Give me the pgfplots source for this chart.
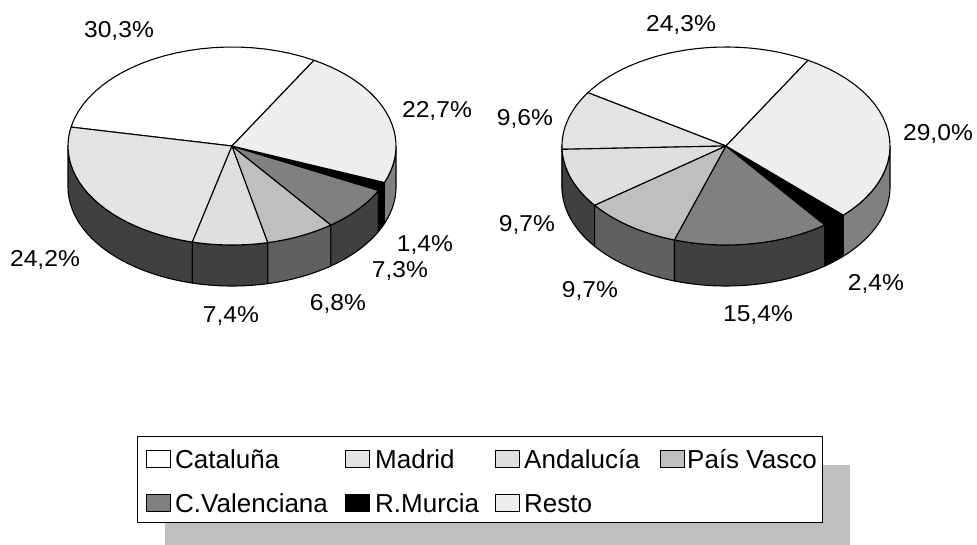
\documentclass[border=0pt]{standalone}
\usepackage{fontspec}
\setmainfont{Liberation Sans}
\usepackage{pgfplots}
\pgfplotsset{compat=1.18}
\usepackage{tikz}
\usepackage{xcolor}

\definecolor{top1}{HTML}{FFFFFF}
\definecolor{top2}{HTML}{E3E3E3}
\definecolor{top3}{HTML}{DFDFDF}
\definecolor{top4}{HTML}{BFBFBF}
\definecolor{top5}{HTML}{808080}
\definecolor{top6}{HTML}{000000}
\definecolor{top7}{HTML}{EEEEEE}
\definecolor{wall2}{HTML}{404040}
\definecolor{wall4}{HTML}{606060}
\definecolor{wall7}{HTML}{808080}
\definecolor{shadow}{HTML}{BFBFBF}

\def\rx{164}
\def\ry{99}
\def\dep{41}

% appends an elliptical arc (angles in degrees) to \pts
\newcommand{\addarc}[4]{%
  \pgfmathsetmacro\stp{(#4-#3)/24}%
  \foreach \k in {0,...,24}{%
    \pgfmathsetmacro\ang{#3+\k*\stp}%
    \pgfmathsetmacro\px{#1+\rx*cos(\ang)}%
    \pgfmathsetmacro\py{#2-\ry*sin(\ang)}%
    \xdef\pts{\pts (\px,\py)}%
  }%
}
\newcommand{\polyplot}[1]{%
  \edef\tmp{\noexpand\addplot[draw=black,line width=1.1pt,line join=round,fill=#1] coordinates {\pts} -- cycle;}%
  \tmp
}
% #3: percent/top colour/side colour, in drawing order
\newcommand{\drawpie}[3]{%
  \foreach \v/\tc/\sc [remember=\e as \s (initially 60)] in {#3}{%
    \pgfmathsetmacro\e{\s+\v*360/100.1}%
    \pgfmathsetmacro\wa{max(\s,180)}%
    \pgfmathsetmacro\wb{min(\e,360)}%
    \ifdim\wb pt>\wa pt
      \gdef\pts{}%
      \addarc{#1}{#2}{\wa}{\wb}%
      \pgfmathsetmacro\low{#2+\dep}%
      \addarc{#1}{\low}{\wb}{\wa}%
      \polyplot{\sc}%
    \fi
  }%
  \foreach \v/\tc/\sc [remember=\e as \s (initially 60)] in {#3}{%
    \pgfmathsetmacro\e{\s+\v*360/100.1}%
    \gdef\pts{(#1,#2) }%
    \addarc{#1}{#2}{\s}{\e}%
    \polyplot{\tc}%
  }%
}

\tikzset{
  val/.style={font=\fontsize{23}{23}\selectfont,inner sep=0pt,anchor=center,xscale=1.07},
  leg/.style={font=\fontsize{26}{26}\selectfont,inner sep=0pt,anchor=base west},
}

\begin{document}
\begin{tikzpicture}
\begin{axis}[
  x=1pt, y=1pt,
  y dir=reverse,
  xmin=0, xmax=977, ymin=0, ymax=545,
  hide axis,
  clip=false,
]
% white page, keeps the picture's extent
\addplot[draw=none,fill=white] coordinates {(0,0) (977,0) (977,545) (0,545)} -- cycle;

\drawpie{232}{146}{30.3/top1/top1, 24.2/top2/wall2, 7.4/top3/wall2, 6.8/top4/wall4, 7.3/top5/wall2, 1.4/top6/top6, 22.7/top7/wall7}
\drawpie{726}{146}{24.3/top1/top1, 9.6/top2/wall2, 9.7/top3/wall2, 9.7/top4/wall4, 15.4/top5/wall2, 2.4/top6/top6, 29.0/top7/wall7}

% legend with its shadow
\addplot[draw=none,fill=shadow] coordinates {(165,465) (850,465) (850,545) (165,545)} -- cycle;
\addplot[draw=black,line width=1pt,fill=white] coordinates {(137,436) (822,436) (822,522) (137,522)} -- cycle;
\addplot[draw=black,line width=1pt,fill=top1] coordinates {(146,450) (170,450) (170,467) (146,467)} -- cycle;
\addplot[draw=black,line width=1pt,fill=top2] coordinates {(345,450) (369,450) (369,467) (345,467)} -- cycle;
\addplot[draw=black,line width=1pt,fill=top3] coordinates {(495,450) (519,450) (519,467) (495,467)} -- cycle;
\addplot[draw=black,line width=1pt,fill=top4] coordinates {(660,450) (684,450) (684,467) (660,467)} -- cycle;
\addplot[draw=black,line width=1pt,fill=top5] coordinates {(146,494) (170,494) (170,511) (146,511)} -- cycle;
\addplot[draw=black,line width=1pt,fill=top6] coordinates {(345,494) (369,494) (369,511) (345,511)} -- cycle;
\addplot[draw=black,line width=1pt,fill=top7] coordinates {(495,494) (519,494) (519,511) (495,511)} -- cycle;

\node[leg] at (axis cs:175,468) {Cataluña};
\node[leg] at (axis cs:375,468) {Madrid};
\node[leg] at (axis cs:524,468) {Andalucía};
\node[leg] at (axis cs:687,468) {País Vasco};
\node[leg] at (axis cs:175,512) {C.Valenciana};
\node[leg] at (axis cs:375,512) {R.Murcia};
\node[leg] at (axis cs:524,512) {Resto};

% value labels, left pie
\node[val] at (axis cs:119,31) {30,3\%};
\node[val] at (axis cs:437,111) {22,7\%};
\node[val] at (axis cs:425,245) {1,4\%};
\node[val] at (axis cs:400,271) {7,3\%};
\node[val] at (axis cs:338,304) {6,8\%};
\node[val] at (axis cs:231,316) {7,4\%};
\node[val] at (axis cs:45,260) {24,2\%};
% value labels, right pie
\node[val] at (axis cs:681,25) {24,3\%};
\node[val] at (axis cs:938,134) {29,0\%};
\node[val] at (axis cs:876,284) {2,4\%};
\node[val] at (axis cs:758,315) {15,4\%};
\node[val] at (axis cs:590,291) {9,7\%};
\node[val] at (axis cs:527,225) {9,7\%};
\node[val] at (axis cs:525,119) {9,6\%};
\end{axis}
\end{tikzpicture}
\end{document}
